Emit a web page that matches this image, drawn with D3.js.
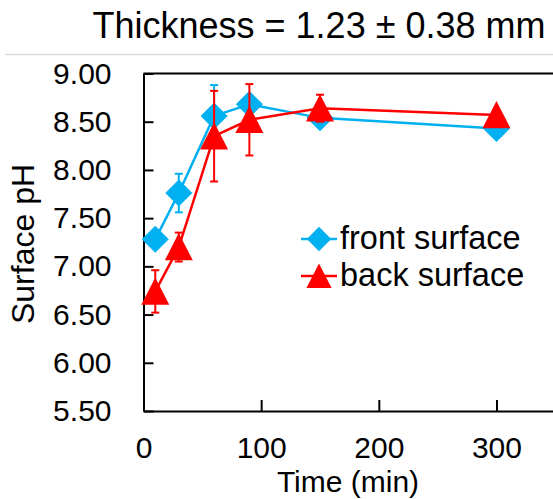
<html>
<script src='https://d3js.org/d3.v7.min.js'></script>
<style>
    body { margin: 0; background: #fff; }
    text { font-family: Arial, "Liberation Sans", sans-serif; fill: #000; }
</style>
<body onload='init()'>
<svg width=553 height=499 id="chart1"></svg>
<script>
// time points (min)
var times = [10, 30, 60, 90, 150, 300];
// front surface pH and error
var frontPH  = [7.28, 7.76, 8.56, 8.68, 8.54, 8.43];
var frontErr = [0.05, 0.20, 0.32, 0.08, 0.05, 0.05];
// back surface pH and error
var backPH  = [6.74, 7.20, 8.35, 8.52, 8.64, 8.57];
var backErr = [0.22, 0.15, 0.47, 0.37, 0.14, 0.05];

var yTicks = [5.5, 6.0, 6.5, 7.0, 7.5, 8.0, 8.5, 9.0];
var xTicks = [0, 100, 200, 300];
var seriesNames = ["front surface", "back surface"];
var seriesColors = ["#00B0F0", "#FF0000"];

// excel-like marker shapes (size = half-width in px)
var diamondShape = {
    draw: function (ctx, r) {
        ctx.moveTo(0, -r); ctx.lineTo(r, 0); ctx.lineTo(0, r); ctx.lineTo(-r, 0); ctx.closePath();
    }
};
var triangleShape = {
    draw: function (ctx, r) {
        ctx.moveTo(0, -r); ctx.lineTo(r, r * 0.95); ctx.lineTo(-r, r * 0.95); ctx.closePath();
    }
};

function init() {
    var svg = d3.select("svg");

    var x = d3.scaleLinear().domain([0, 350]).range([143.5, 555.3]);
    var y = d3.scaleLinear().domain([5.5, 9.0]).range([411, 73.5]);

    // light chart border line at top
    svg.append("line")
        .attr("x1", 5).attr("x2", 553)
        .attr("y1", 54.5).attr("y2", 54.5)
        .attr("stroke", "#d9d9d9").attr("stroke-width", 1.5);

    // title
    svg.append("text")
        .attr("x", 319).attr("y", 38)
        .attr("text-anchor", "middle")
        .style("font-size", "36px")
        .text("Thickness = 1.23 \u00b1 0.38 mm");

    // top border of plot
    svg.append("line")
        .attr("x1", x(0)).attr("x2", x(350))
        .attr("y1", y(9)).attr("y2", y(9))
        .attr("stroke", "#000").attr("stroke-width", 2);

    var gx = svg.append("g")
        .attr("transform", "translate(0," + y(5.5) + ")")
        .call(d3.axisBottom(x).tickValues(xTicks).tickSizeInner(-11).tickSizeOuter(0).tickPadding(26));
    var gy = svg.append("g")
        .attr("transform", "translate(" + x(0) + ",0)")
        .call(d3.axisLeft(y).tickValues(yTicks).tickSizeInner(-10).tickSizeOuter(0).tickPadding(32)
            .tickFormat(d3.format(".2f")));

    [gx, gy].forEach(function (g) {
        g.select(".domain").attr("stroke", "#000").attr("stroke-width", 2);
        g.selectAll(".tick line").attr("stroke", "#000").attr("stroke-width", 2);
        g.selectAll(".tick text").style("font-size", "30px").attr("fill", "#000")
            .style("font-family", "Arial, 'Liberation Sans', sans-serif");
    });

    // axis titles
    svg.append("text")
        .attr("x", 348).attr("y", 492)
        .attr("text-anchor", "middle")
        .style("font-size", "30px")
        .text("Time (min)");
    svg.append("text")
        .attr("transform", "translate(34,244) rotate(-90)")
        .attr("text-anchor", "middle")
        .style("font-size", "32px")
        .text("Surface pH");

    var series = [
        { vals: frontPH, err: frontErr, color: seriesColors[0], shape: diamondShape, size: 13.5 },
        { vals: backPH, err: backErr, color: seriesColors[1], shape: triangleShape, size: 14 }
    ];

    var line = d3.line()
        .x(function (d) { return x(d.t); })
        .y(function (d) { return y(d.v); });

    series.forEach(function (s) {
        var pts = times.map(function (t, i) { return { t: t, v: s.vals[i], e: s.err[i] }; });
        var g = svg.append("g");

        g.append("path")
            .datum(pts)
            .attr("d", line)
            .attr("fill", "none")
            .attr("stroke", s.color)
            .attr("stroke-width", 2.5);

        var eb = g.selectAll(".err").data(pts).enter().append("g").attr("class", "err");
        eb.append("line")
            .attr("x1", function (d) { return x(d.t); })
            .attr("x2", function (d) { return x(d.t); })
            .attr("y1", function (d) { return y(d.v + d.e); })
            .attr("y2", function (d) { return y(d.v - d.e); })
            .attr("stroke", s.color).attr("stroke-width", 2);
        [1, -1].forEach(function (sign) {
            eb.append("line")
                .attr("x1", function (d) { return x(d.t) - 4; })
                .attr("x2", function (d) { return x(d.t) + 4; })
                .attr("y1", function (d) { return y(d.v + sign * d.e); })
                .attr("y2", function (d) { return y(d.v + sign * d.e); })
                .attr("stroke", s.color).attr("stroke-width", 2);
        });

        g.selectAll(".pt").data(pts).enter().append("path")
            .attr("class", "pt")
            .attr("transform", function (d) { return "translate(" + x(d.t) + "," + y(d.v) + ")"; })
            .attr("d", d3.symbol().type(s.shape).size(s.size))
            .attr("fill", s.color);
    });

    // legend
    var legY = [239, 276];
    series.forEach(function (s, i) {
        var lg = svg.append("g").attr("transform", "translate(0," + legY[i] + ")");
        lg.append("line")
            .attr("x1", 301).attr("x2", 337).attr("y1", 0).attr("y2", 0)
            .attr("stroke", s.color).attr("stroke-width", 2.5);
        lg.append("path")
            .attr("transform", "translate(319,0)")
            .attr("d", d3.symbol().type(s.shape).size(s.size * 0.9))
            .attr("fill", s.color);
        lg.append("text")
            .attr("x", 340).attr("y", 10)
            .style("font-size", "32.5px")
            .text(seriesNames[i]);
    });
}
</script>
</body>
</html>
